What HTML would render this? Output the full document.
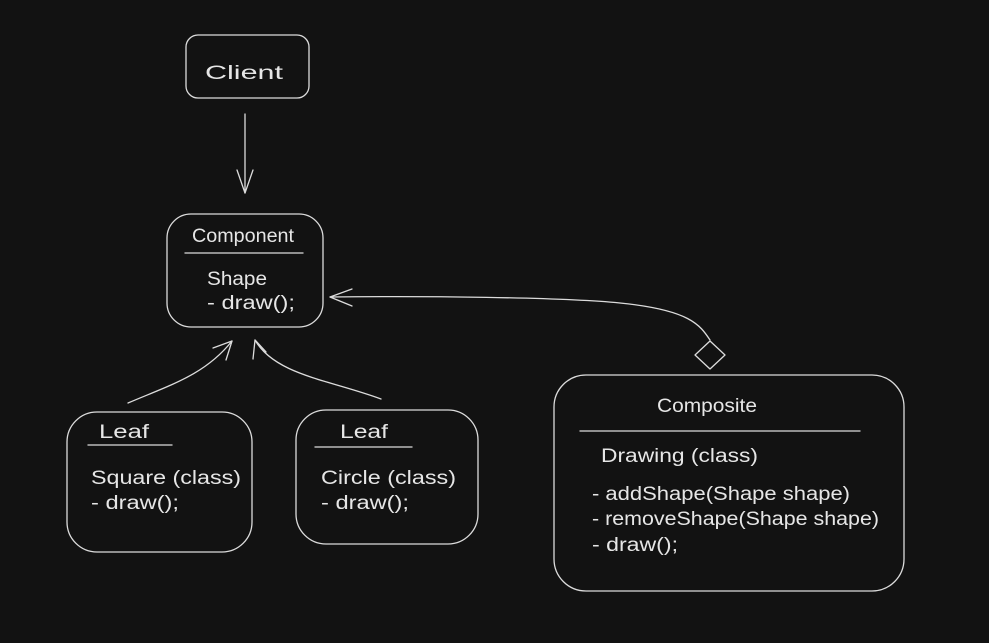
<!DOCTYPE html>
<html><head><meta charset="utf-8"><style>
html,body{margin:0;padding:0;background:#121212;}
svg{display:block}
text{font-family:"Liberation Sans",sans-serif;fill:#e6e6e6;font-size:19px;}
</style></head><body>
<svg width="989" height="643" viewBox="0 0 989 643" xmlns="http://www.w3.org/2000/svg">
<rect width="989" height="643" fill="#121212"/>
<g fill="none" stroke="#dcdcdc" stroke-width="1.3" stroke-linecap="round" stroke-linejoin="round">
<rect x="186" y="35" width="123" height="63" rx="12"/>
<rect x="167" y="214" width="156" height="113" rx="24"/>
<rect x="67" y="412" width="185" height="140" rx="30"/>
<rect x="296" y="410" width="182" height="134" rx="30"/>
<rect x="554" y="375" width="350" height="216" rx="32"/>
<line x1="185" y1="253" x2="303" y2="253"/>
<line x1="88" y1="445" x2="172" y2="445"/>
<line x1="315" y1="447" x2="412" y2="447"/>
<line x1="580" y1="431" x2="860" y2="431"/>
<line x1="245" y1="114" x2="245" y2="193"/>
<polyline points="237,170 245,193 253,170"/>
<path d="M128,403 C170,385 205,375 232,341"/>
<polyline points="213,348 232,341 226,360"/>
<path d="M381,399 C330,380 275,375 255,340"/>
<polyline points="253,359 255,340 266,352"/>
<path d="M710,340 C700,325 690,310 620,303 C560,297 420,296 330,297"/>
<polyline points="352,289 330,297 352,306"/>
<polygon points="710,341 725,355 710,369 695,355"/>
</g>
<text x="205" y="79" font-size="28" textLength="78" lengthAdjust="spacingAndGlyphs">Client</text>
<text x="192" y="242" textLength="102" lengthAdjust="spacingAndGlyphs">Component</text>
<text x="207" y="285" textLength="60" lengthAdjust="spacingAndGlyphs">Shape</text>
<text x="207" y="309" textLength="88" lengthAdjust="spacingAndGlyphs">- draw();</text>
<text x="99" y="438" textLength="50" lengthAdjust="spacingAndGlyphs">Leaf</text>
<text x="91" y="484" textLength="150" lengthAdjust="spacingAndGlyphs">Square (class)</text>
<text x="91" y="509" textLength="88" lengthAdjust="spacingAndGlyphs">- draw();</text>
<text x="340" y="438" textLength="48" lengthAdjust="spacingAndGlyphs">Leaf</text>
<text x="321" y="484" textLength="135" lengthAdjust="spacingAndGlyphs">Circle (class)</text>
<text x="321" y="509" textLength="88" lengthAdjust="spacingAndGlyphs">- draw();</text>
<text x="657" y="412" textLength="100" lengthAdjust="spacingAndGlyphs">Composite</text>
<text x="601" y="462" textLength="157" lengthAdjust="spacingAndGlyphs">Drawing (class)</text>
<text x="592" y="500" textLength="258" lengthAdjust="spacingAndGlyphs">- addShape(Shape shape)</text>
<text x="592" y="525" textLength="287" lengthAdjust="spacingAndGlyphs">- removeShape(Shape shape)</text>
<text x="592" y="551" textLength="86" lengthAdjust="spacingAndGlyphs">- draw();</text>
</svg>
</body></html>
